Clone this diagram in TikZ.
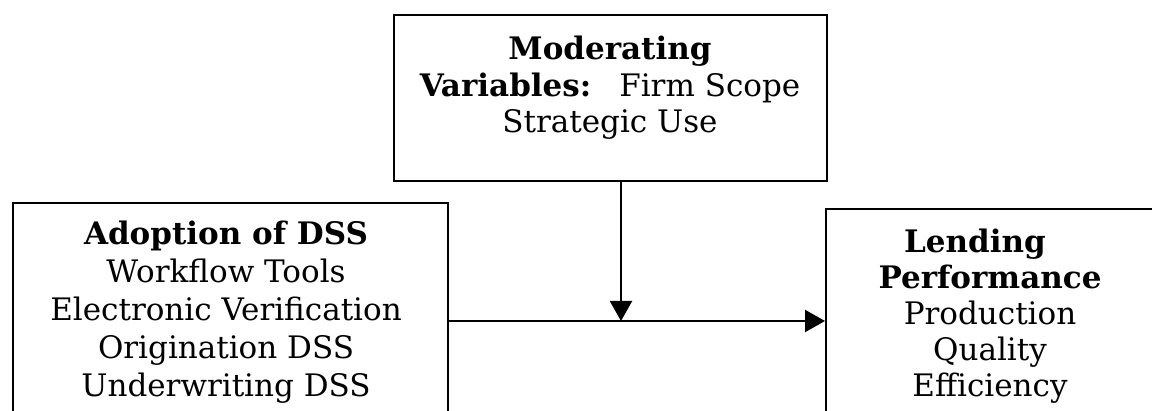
\documentclass[tikz,border=0pt]{standalone}
\usepackage{fontspec}
\setmainfont{DejaVu Serif}
\usetikzlibrary{arrows.meta}
\begin{document}
\begin{tikzpicture}[x=1pt,y=-1pt,
  box/.style={draw=black,line width=2.2pt,inner sep=0pt,anchor=north west},
  txt/.style={inner sep=0pt,align=center,anchor=north,font=\fontsize{31}{37}\selectfont},
  conn/.style={line width=2.2pt,-{Triangle[width=22pt,length=20pt]}}]
\useasboundingbox (0,0) rectangle (1152,411);
\clip (0,0) rectangle (1152,411);
% boxes
\node[box,minimum width=433pt,minimum height=166pt] (mod) at (393,14) {};
\node[box,minimum width=435pt,minimum height=260pt] (adopt) at (12,202) {};
\node[box,minimum width=400pt,minimum height=260pt] (lend) at (825,208) {};
% texts
\node[txt,font=\fontsize{31}{36.5}\selectfont] (modT) at (610,36) {\textbf{Moderating}\\\textbf{Variables:}\hspace{28pt}Firm Scope\hspace*{30pt}\\Strategic Use};
\node[txt,font=\fontsize{31}{38}\selectfont] (adoptT) at (226,221) {\textbf{Adoption of DSS}\\Workflow Tools\\Electronic Verification\\Origination DSS\\Underwriting DSS};
\node[txt,font=\fontsize{31}{36}\selectfont] (lendT) at (990,229) {\textbf{Lending}\hspace*{30pt}\\\textbf{Performance}\\Production\\Quality\\Efficiency};
% connectors
\coordinate (join) at (621,321);
\draw[conn] (adopt.east |- join) -- (lend.west |- join);
\draw[conn] (mod.south -| join) -- (join);
\end{tikzpicture}
\end{document}
